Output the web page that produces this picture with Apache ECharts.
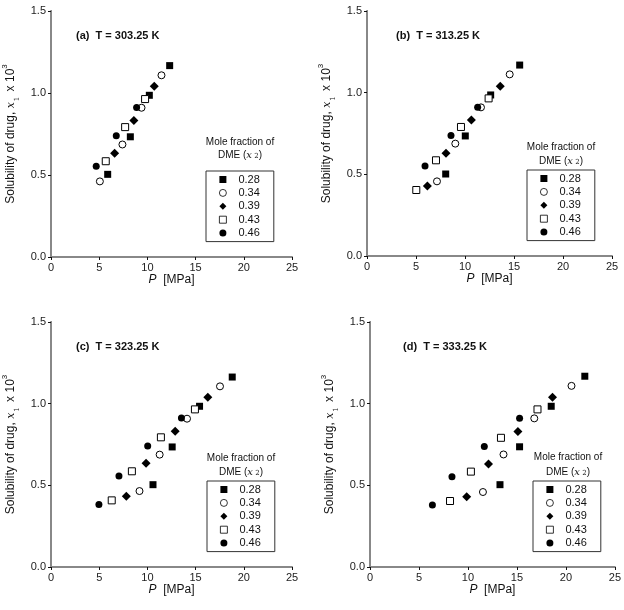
<!DOCTYPE html>
<html>
<head>
<meta charset="utf-8">
<script src="https://cdn.jsdelivr.net/npm/echarts@6/dist/echarts.min.js"></script>
<style>
  html, body { margin: 0; padding: 0; background: #fff; }
  #chart { width: 624px; height: 610px; }
</style>
</head>
<body>
<div id="chart"></div>
<script>
// mole fraction of DME (legend entries)
const cats = ['0.28', '0.34', '0.39', '0.43', '0.46'];
const panelTitles = ['(a)  T = 303.25 K', '(b)  T = 313.25 K', '(c)  T = 323.25 K', '(d)  T = 333.25 K'];
const xTicks = [0, 25, 5];
const yTicks = [0, 1.5, 0.5];

// [P (MPa), x1 * 10^3]
const a28 = [[5.88, 0.504], [8.23, 0.733], [10.2, 0.986], [12.31, 1.167]];
const a34 = [[5.07, 0.461], [7.41, 0.686], [9.39, 0.91], [11.46, 1.108]];
const a39 = [[6.6, 0.633], [8.6, 0.833], [10.71, 1.041]];
const a43 = [[5.68, 0.584], [7.69, 0.792], [9.76, 0.963]];
const a46 = [[4.69, 0.553], [6.77, 0.739], [8.88, 0.912]];

const b28 = [[8.03, 0.502], [10.03, 0.735], [12.62, 0.986], [15.58, 1.169]];
const b34 = [[7.14, 0.457], [9.01, 0.688], [11.63, 0.91], [14.56, 1.112]];
const b39 = [[6.16, 0.429], [8.06, 0.629], [10.65, 0.833], [13.6, 1.039]];
const b43 = [[5.03, 0.404], [7.04, 0.586], [9.59, 0.79], [12.41, 0.965]];
const b46 = [[5.92, 0.551], [8.57, 0.737], [11.29, 0.91]];

const c28 = [[10.58, 0.504], [12.57, 0.735], [15.41, 0.984], [18.8, 1.163]];
const c34 = [[9.18, 0.465], [11.27, 0.688], [14.11, 0.908], [17.53, 1.106]];
const c39 = [[7.81, 0.433], [9.86, 0.635], [12.88, 0.831], [16.27, 1.039]];
const c43 = [[6.3, 0.408], [8.39, 0.586], [11.4, 0.794], [14.93, 0.965]];
const c46 = [[4.97, 0.382], [7.05, 0.557], [10.03, 0.741], [13.53, 0.912]];

const d28 = [[13.27, 0.504], [15.27, 0.736], [18.5, 0.984], [21.93, 1.168]];
const d34 = [[11.53, 0.459], [13.63, 0.689], [16.77, 0.91], [20.57, 1.109]];
const d39 = [[9.87, 0.43], [12.1, 0.631], [15.1, 0.83], [18.63, 1.039]];
const d43 = [[8.17, 0.404], [10.3, 0.584], [13.37, 0.791], [17.1, 0.965]];
const d46 = [[6.37, 0.379], [8.37, 0.553], [11.67, 0.738], [15.27, 0.91]];

const panels = [
  [a28, a34, a39, a43, a46],
  [b28, b34, b39, b43, b46],
  [c28, c34, c39, c43, c46],
  [d28, d34, d39, d43, d46]
];

const grids = [
  { left: 47, top: 11, width: 245, height: 246 },
  { left: 367, top: 11, width: 245, height: 245 },
  { left: 48, top: 322, width: 244, height: 245 },
  { left: 370, top: 322, width: 250, height: 245 }
];
const legendPos = [[206, 171], [527, 170], [207, 481], [533, 481]];
const headPos = [[240, 142, 155], [561, 147, 161], [241, 458, 472], [568, 457, 472]];
const titlePos = [[76, 36], [396, 36], [76, 347], [403, 347]];

const symbols = [
  { symbol: 'rect', itemStyle: { color: '#000' } },
  { symbol: 'circle', itemStyle: { color: '#fff', borderColor: '#000', borderWidth: 1 } },
  { symbol: 'diamond', itemStyle: { color: '#000' }, size: 9 },
  { symbol: 'rect', itemStyle: { color: '#fff', borderColor: '#000', borderWidth: 1 } },
  { symbol: 'circle', itemStyle: { color: '#000' } }
];

const font = 'Liberation Sans, Arial, sans-serif';

const xAxis = [];
const yAxis = [];
const series = [];
const legend = [];
const graphic = [];

grids.forEach((g, i) => {
  xAxis.push({
    type: 'value', gridIndex: i, min: xTicks[0], max: xTicks[1], interval: xTicks[2],
    name: '{i|P}  [MPa]', nameLocation: 'middle', nameGap: 17,
    nameTextStyle: {
      fontFamily: font, fontSize: 12, color: '#111',
      rich: { i: { fontFamily: font, fontStyle: 'italic', fontSize: 12, color: '#111' } }
    },
    axisLine: { lineStyle: { color: '#111', width: 1 } },
    axisTick: { length: 3, lineStyle: { color: '#111' } },
    axisLabel: { fontFamily: font, fontSize: 11, color: '#222', margin: 5 },
    splitLine: { show: false }
  });
  xAxis.push({
    type: 'value', gridIndex: i, position: 'top', min: xTicks[0], max: xTicks[1],
    axisLine: { lineStyle: { color: '#888', width: 2 } },
    axisTick: { show: false }, axisLabel: { show: false }, splitLine: { show: false }
  });
  yAxis.push({
    type: 'value', gridIndex: i, min: yTicks[0], max: yTicks[1], interval: yTicks[2],
    name: 'Solubility of drug, {i|x}{s|1} x 10{p|3}', nameLocation: 'middle', nameGap: 30, nameRotate: 90,
    nameTextStyle: {
      fontFamily: font, fontSize: 12, color: '#111', lineHeight: 16,
      rich: {
        i: { fontFamily: 'DejaVu Serif, serif', fontStyle: 'italic', fontSize: 11, color: '#111', lineHeight: 16, padding: [0, 1, 0, 0] },
        s: { fontFamily: 'DejaVu Serif, serif', fontSize: 7, color: '#111', verticalAlign: 'bottom', lineHeight: 12, padding: [0, 2, 0, 0] },
        p: { fontFamily: font, fontSize: 8, color: '#111', verticalAlign: 'top', lineHeight: 20 }
      }
    },
    axisLine: { lineStyle: { color: '#111', width: 1 } },
    axisTick: { length: 3, lineStyle: { color: '#111' } },
    axisLabel: { fontFamily: font, fontSize: 11, color: '#222', margin: 5, formatter: v => v.toFixed(1) },
    splitLine: { show: false }
  });
  yAxis.push({
    type: 'value', gridIndex: i, position: 'right', min: yTicks[0], max: yTicks[1],
    axisLine: { lineStyle: { color: '#888', width: 2 } },
    axisTick: { show: false }, axisLabel: { show: false }, splitLine: { show: false }
  });

  panels[i].forEach((pts, k) => {
    series.push({
      name: cats[k],
      type: 'scatter',
      xAxisIndex: i * 2,
      yAxisIndex: i * 2,
      data: pts,
      symbol: symbols[k].symbol,
      symbolSize: symbols[k].size || 7,
      itemStyle: Object.assign({ opacity: 1 }, symbols[k].itemStyle),
      emphasis: { disabled: true },
      z: 5
    });
  });

  legend.push({
    data: cats,
    orient: 'vertical',
    left: legendPos[i][0],
    top: legendPos[i][1],
    padding: [3, 14, 3, 13],
    itemGap: 2.4,
    itemWidth: 7,
    itemHeight: 7,
    itemStyle: { borderWidth: 0.8 },
    borderColor: '#333',
    borderWidth: 1,
    selectedMode: false,
    formatter: name => '{t|' + name + '}',
    textStyle: {
      fontFamily: font, fontSize: 11, color: '#111',
      rich: { t: { fontFamily: font, fontSize: 11, color: '#111', padding: [0, 0, 0, 7] } }
    }
  });

  graphic.push({
    type: 'text', x: headPos[i][0], y: headPos[i][1],
    style: { text: 'Mole fraction of', font: '10px ' + font, fill: '#111', align: 'center', verticalAlign: 'middle' }
  });
  graphic.push({
    type: 'text', x: headPos[i][0], y: headPos[i][2],
    style: {
      text: 'DME ({i|x}{s| 2})', font: '10px ' + font, fill: '#111', align: 'center', verticalAlign: 'middle',
      rich: {
        i: { fontFamily: 'DejaVu Serif, serif', fontStyle: 'italic', fontSize: 10, fill: '#111' },
        s: { fontFamily: 'DejaVu Serif, serif', fontSize: 7, fill: '#111', verticalAlign: 'bottom' }
      }
    }
  });
  graphic.push({
    type: 'text', x: titlePos[i][0], y: titlePos[i][1],
    style: { text: panelTitles[i], font: 'bold 11px ' + font, fill: '#111', align: 'left', verticalAlign: 'middle' }
  });
});

const myChart = echarts.init(document.querySelector('#chart'));
myChart.setOption({
  animation: false,
  grid: grids,
  xAxis,
  yAxis,
  series,
  legend,
  graphic
});
</script>
</body>
</html>
